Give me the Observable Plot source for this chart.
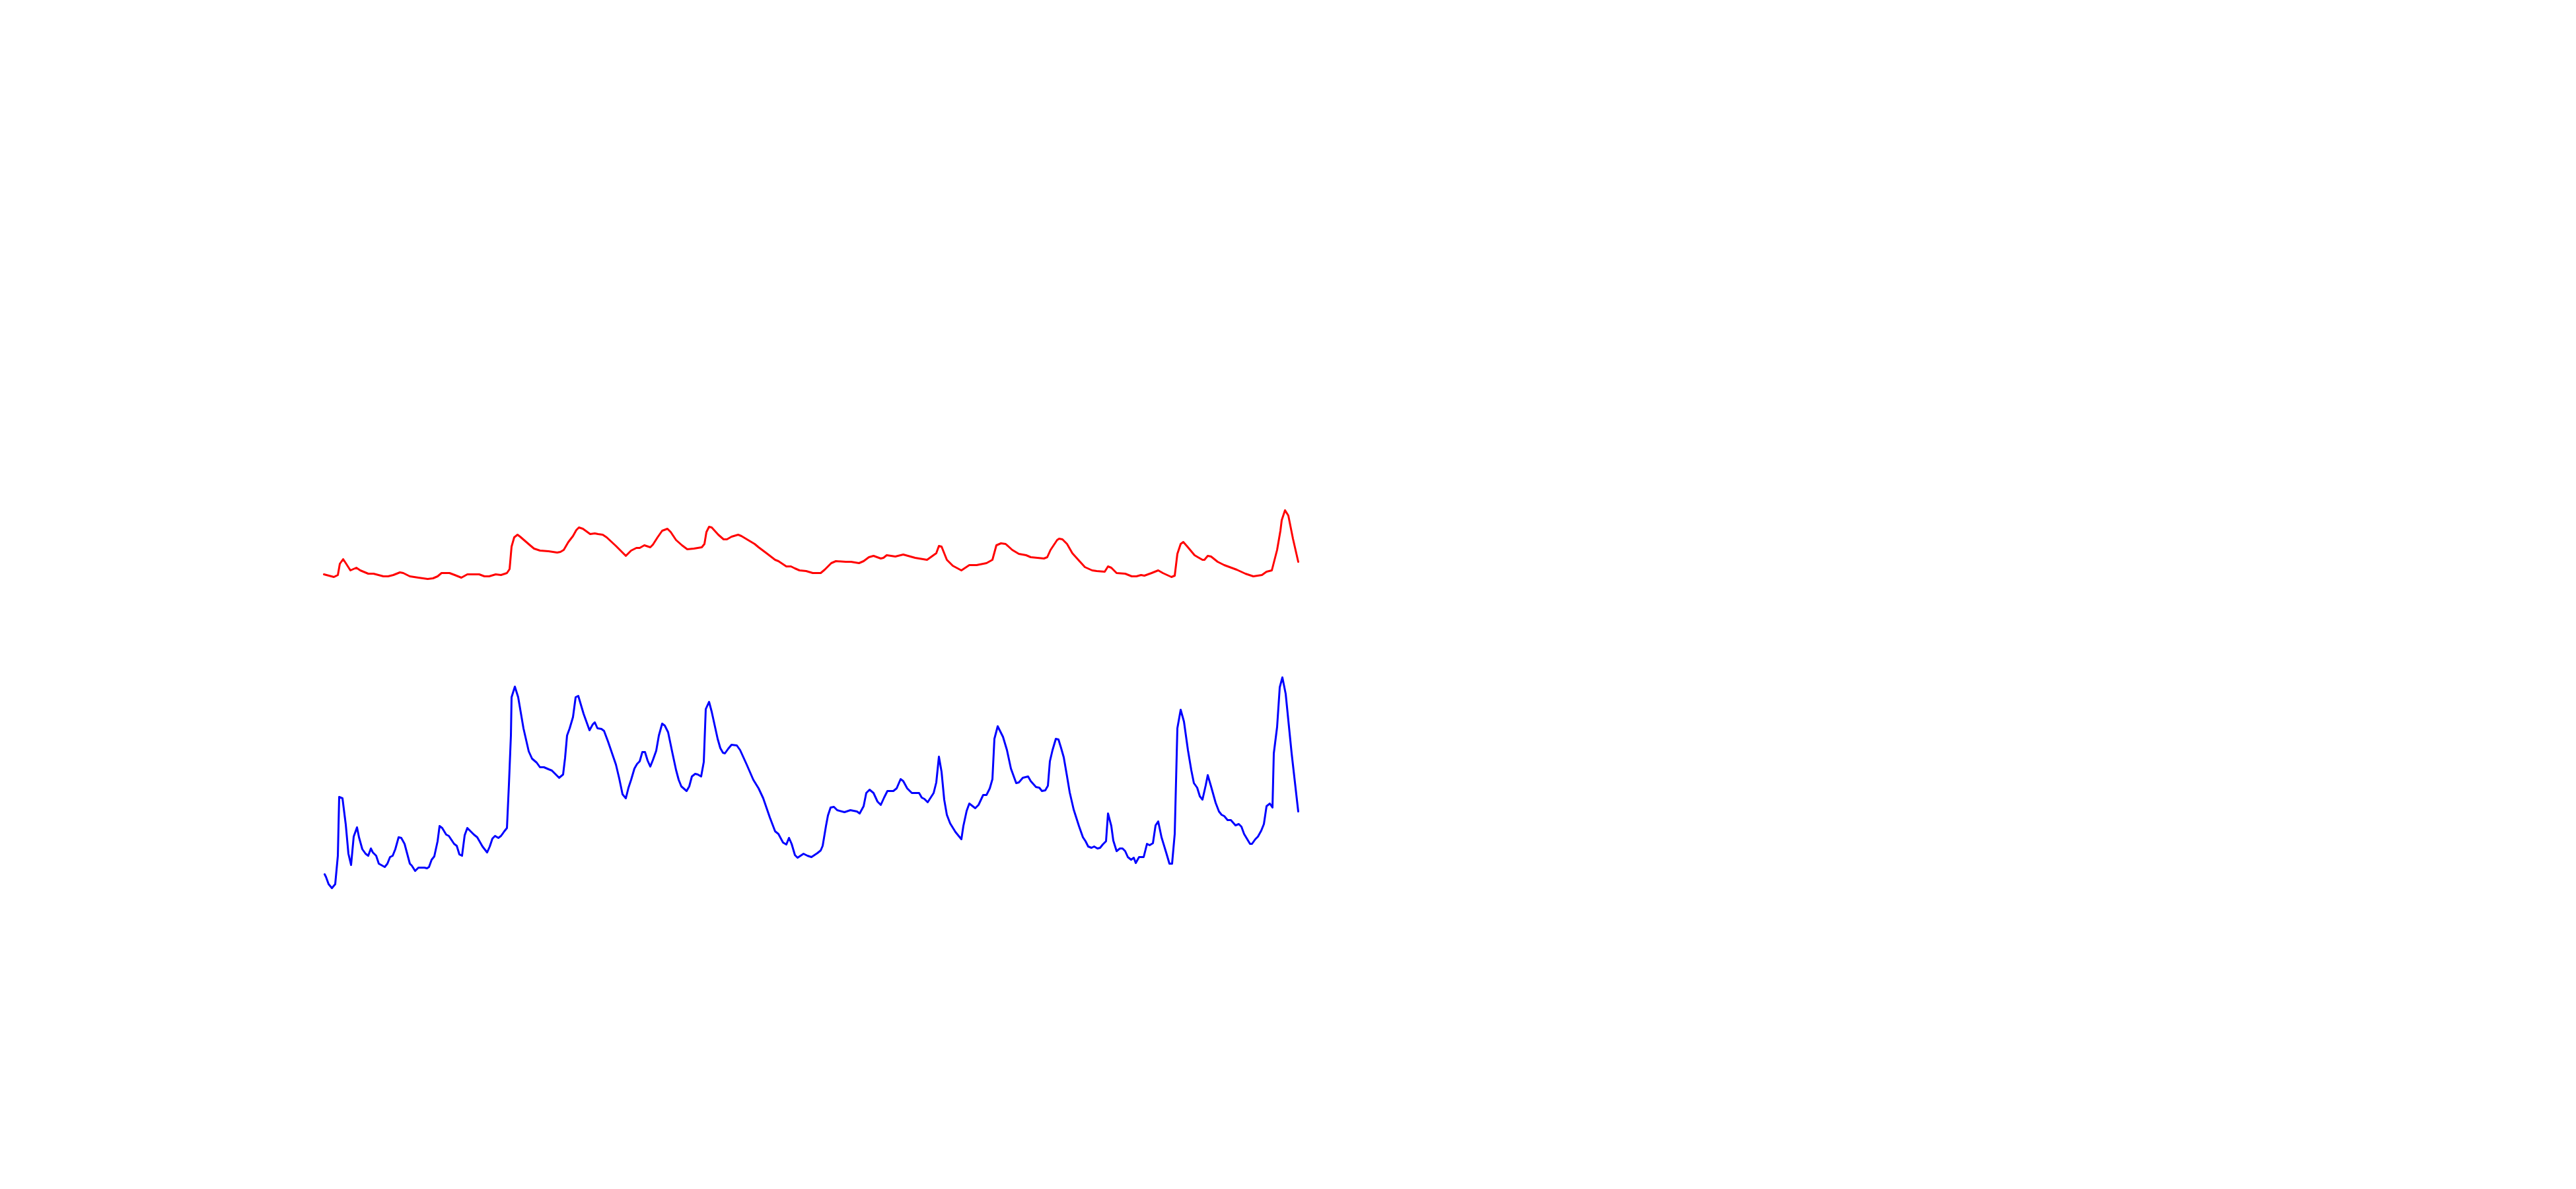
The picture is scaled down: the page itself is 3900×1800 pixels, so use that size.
<!DOCTYPE html>
<html>
<head>
<meta charset="utf-8">
<script src="https://cdn.jsdelivr.net/npm/d3@7"></script>
<script src="https://cdn.jsdelivr.net/npm/@observablehq/plot@0.6"></script>
<style>
  html, body { margin: 0; padding: 0; background: #fff; }
  #chart svg { display: block; }
</style>
</head>
<body>
<div id="chart"></div>
<script>
// Red series: time index and value
const redT = [0.0,1.5,2.1,2.4,2.9,3.3,4.0,4.9,5.5,6.7,7.5,9.0,9.7,10.5,11.5,12.0,13.0,14.3,15.7,16.5,17.2,17.8,19.0,19.8,20.8,21.7,23.5,24.3,25.0,26.0,26.8,27.7,28.1,28.4,28.8,29.3,29.7,31.2,31.8,32.7,34.0,35.3,35.8,36.3,37.0,37.7,38.2,38.6,39.2,40.3,41.0,41.5,42.2,42.8,44.2,45.7,46.5,47.3,47.8,48.5,49.4,49.8,50.5,51.2,52.0,52.5,53.3,54.2,55.0,56.0,57.2,57.6,57.9,58.3,58.7,59.7,60.5,61.0,61.7,62.7,63.2,64.7,65.2,65.8,67.0,68.3,68.8,70.0,70.7,71.3,72.0,73.0,74.0,75.2,75.8,76.8,77.5,79.0,79.8,81.0,81.7,82.5,83.2,84.3,84.7,85.2,86.5,87.7,89.5,91.3,92.7,93.1,93.5,94.3,95.2,96.5,97.7,98.8,100.3,101.2,101.8,102.5,103.2,104.2,105.2,106.3,107.0,108.0,109.0,109.5,110.0,111.0,111.3,111.8,112.5,113.3,114.2,115.2,116.3,117.0,118.2,118.7,119.2,120.0,121.3,122.3,123.0,123.7,124.2,125.3,126.3,127.0,128.3,128.8,129.2,129.7,130.1,130.8,131.8,132.3,133.0,133.3,133.8,134.3,135.3,136.3,138.2,139.5,140.7,142.0,142.7,143.5,144.3,144.8,145.0,145.5,146.0,146.7,147.5];
const redV = [53.1,52.7,53.0,54.7,55.4,54.8,53.7,54.1,53.7,53.2,53.2,52.8,52.8,53.0,53.4,53.3,52.8,52.6,52.4,52.5,52.8,53.3,53.3,53.0,52.6,53.1,53.1,52.8,52.8,53.1,53.0,53.3,53.9,57.3,58.7,59.1,58.8,57.5,57.0,56.7,56.6,56.4,56.5,56.8,58.0,58.9,59.8,60.2,60.0,59.2,59.3,59.2,59.1,58.7,57.4,55.9,56.7,57.1,57.1,57.5,57.2,57.6,58.7,59.7,60.0,59.5,58.3,57.5,56.9,57.0,57.2,57.7,59.5,60.3,60.2,59.1,58.4,58.4,58.8,59.1,58.9,58.0,57.7,57.2,56.3,55.3,55.1,54.3,54.3,54.0,53.7,53.6,53.3,53.3,53.8,54.8,55.1,55.0,55.0,54.8,55.1,55.7,55.9,55.5,55.6,56.0,55.8,56.1,55.6,55.3,56.3,57.4,57.3,55.3,54.4,53.7,54.5,54.5,54.8,55.3,57.5,57.8,57.7,56.8,56.2,56.0,55.7,55.6,55.5,55.7,56.8,58.3,58.5,58.4,57.7,56.3,55.3,54.2,53.7,53.6,53.5,54.3,54.1,53.3,53.2,52.8,52.8,53.0,52.9,53.3,53.7,53.3,52.7,52.9,56.2,57.7,58.0,57.2,56.0,55.7,55.3,55.3,55.9,55.8,55.0,54.5,53.8,53.2,52.8,53.0,53.5,53.7,56.8,59.7,61.3,62.8,62.0,58.5,55.0];

// Blue series: time index and value
const blueT = [0.1,0.3,0.7,1.2,1.7,2.1,2.3,2.8,3.3,3.7,4.1,4.5,5.0,5.3,5.8,6.3,6.7,7.1,7.4,7.9,8.3,9.2,9.6,10.0,10.4,10.8,11.3,11.7,12.2,13.0,13.3,13.8,14.3,15.2,15.6,15.9,16.3,16.7,17.2,17.5,17.9,18.5,18.9,19.7,20.1,20.5,20.9,21.3,21.7,22.7,23.2,24.0,24.7,25.1,25.5,25.9,26.4,26.8,27.3,27.7,28.0,28.3,28.4,28.9,29.4,30.2,31.0,31.5,32.2,32.7,33.3,34.0,34.5,35.2,35.6,36.2,36.5,36.8,37.2,37.7,38.1,38.5,39.3,40.2,40.7,41.0,41.4,42.0,42.4,43.0,44.2,44.7,45.2,45.7,46.1,46.5,47.0,47.4,47.8,48.2,48.6,49.0,49.4,49.8,50.3,50.7,51.2,51.6,52.1,52.7,53.3,53.7,54.1,54.9,55.3,55.7,56.2,56.6,57.1,57.5,57.8,58.3,58.7,59.6,60.0,60.4,60.7,61.2,61.7,62.5,63.0,64.0,65.0,65.8,66.5,67.5,68.3,68.8,69.5,70.0,70.4,70.8,71.3,71.7,72.6,73.2,73.8,74.7,75.2,75.5,76.0,76.3,76.7,77.2,77.7,78.8,79.7,80.7,81.1,81.7,82.1,82.6,83.2,83.8,84.3,84.8,85.3,86.2,86.7,87.3,87.7,88.3,89.0,90.1,90.5,90.9,91.4,92.3,92.7,93.1,93.5,93.9,94.3,94.8,95.6,96.5,96.8,97.3,97.7,98.6,99.1,99.8,100.3,100.8,101.2,101.5,102.0,102.8,103.4,104.0,104.8,105.2,105.8,106.6,107.0,107.8,108.3,108.7,109.2,109.6,109.9,110.3,110.8,111.2,111.6,112.0,112.5,112.9,113.5,114.3,114.9,115.3,115.7,116.2,116.6,117.1,117.5,117.9,118.4,118.7,119.2,119.5,120.0,120.5,120.9,121.3,121.7,122.2,122.6,122.9,123.4,124.1,124.6,125.0,125.5,125.9,126.3,126.8,127.5,128.0,128.4,128.8,129.2,129.7,130.2,130.8,131.3,131.7,132.2,132.6,133.0,133.5,133.8,134.3,135.0,135.5,135.9,136.3,136.8,137.3,138.0,138.5,138.9,139.3,140.2,140.5,141.0,141.4,141.9,142.3,142.7,143.2,143.6,143.8,144.3,144.7,145.1,145.6,146.5,147.5];
const blueV = [7.7,7.3,6.2,5.6,6.2,10.5,19.4,19.2,15.2,10.8,9.1,13.4,14.8,13.3,11.5,10.8,10.5,11.6,11.0,10.5,9.3,8.8,9.3,10.3,10.5,11.5,13.3,13.2,12.3,9.3,9.0,8.2,8.7,8.7,8.6,8.8,9.9,10.4,12.7,15.0,14.7,13.7,13.5,12.3,12.0,10.7,10.5,13.6,14.7,13.7,13.3,11.9,11.0,11.9,13.1,13.5,13.2,13.5,14.2,14.7,21.3,28.7,34.5,36.1,34.5,29.8,26.3,25.2,24.6,23.9,23.9,23.6,23.4,22.7,22.3,22.8,25.3,28.7,29.8,31.5,34.5,34.7,32.0,29.5,30.4,30.7,29.8,29.7,29.4,27.8,24.3,22.2,19.8,19.2,20.8,22.0,23.7,24.4,24.8,26.2,26.2,24.9,24.0,25.0,26.4,28.7,30.5,30.2,29.2,26.3,23.5,22.0,21.0,20.3,21.0,22.5,22.9,22.8,22.5,24.7,32.7,33.8,32.3,28.2,26.8,26.1,26.0,26.7,27.3,27.2,26.5,24.3,22.0,20.7,19.2,16.3,14.2,13.8,12.5,12.2,13.2,12.3,10.6,10.2,10.8,10.5,10.3,10.9,11.3,12.0,15.0,16.6,17.8,17.9,17.4,17.1,17.4,17.2,16.9,18.0,20.0,20.5,20.0,18.7,18.2,19.3,20.3,20.3,20.7,22.1,21.8,20.7,20.0,20.0,19.3,19.1,18.6,20.0,21.6,25.5,23.2,19.0,16.7,15.4,14.1,13.0,15.0,17.3,18.4,17.7,18.2,19.7,19.7,20.7,22.1,28.2,30.1,28.5,26.5,23.7,21.5,21.6,22.3,22.5,21.8,20.9,20.8,20.3,20.4,21.1,24.8,26.5,28.2,28.1,26.8,25.4,22.5,20.1,17.5,15.0,13.3,12.7,11.9,11.7,11.9,11.6,11.7,12.2,12.7,16.9,15.0,12.8,11.2,11.6,11.6,11.2,10.3,9.9,10.2,9.4,10.3,10.3,12.3,12.1,12.4,15.1,15.7,13.3,11.0,9.3,9.3,13.8,29.8,32.6,30.8,26.5,23.5,21.5,20.8,19.5,19.0,21.2,22.7,21.0,18.5,17.2,16.7,16.5,15.9,15.9,15.1,15.3,14.9,13.8,12.3,12.3,13.0,13.4,14.3,15.3,18.0,18.4,17.8,26.0,30.0,36.0,37.5,35.0,26.0,17.2];

const red = redT.map((t, i) => ({t, v: redV[i]}));
const blue = blueT.map((t, i) => ({t, v: blueV[i]}));

const chart = Plot.plot({
  width: 3900,
  height: 1800,
  marginLeft: 490,
  marginRight: 1910,
  marginTop: 700,
  marginBottom: 400,
  x: {domain: [0, 150], axis: null},
  y: {domain: [0, 70], axis: null},
  marks: [
    Plot.line(red, {x: "t", y: "v", stroke: "red", strokeWidth: 3}),
    Plot.line(blue, {x: "t", y: "v", stroke: "blue", strokeWidth: 3})
  ]
});
document.getElementById("chart").appendChild(chart);
</script>
</body>
</html>
